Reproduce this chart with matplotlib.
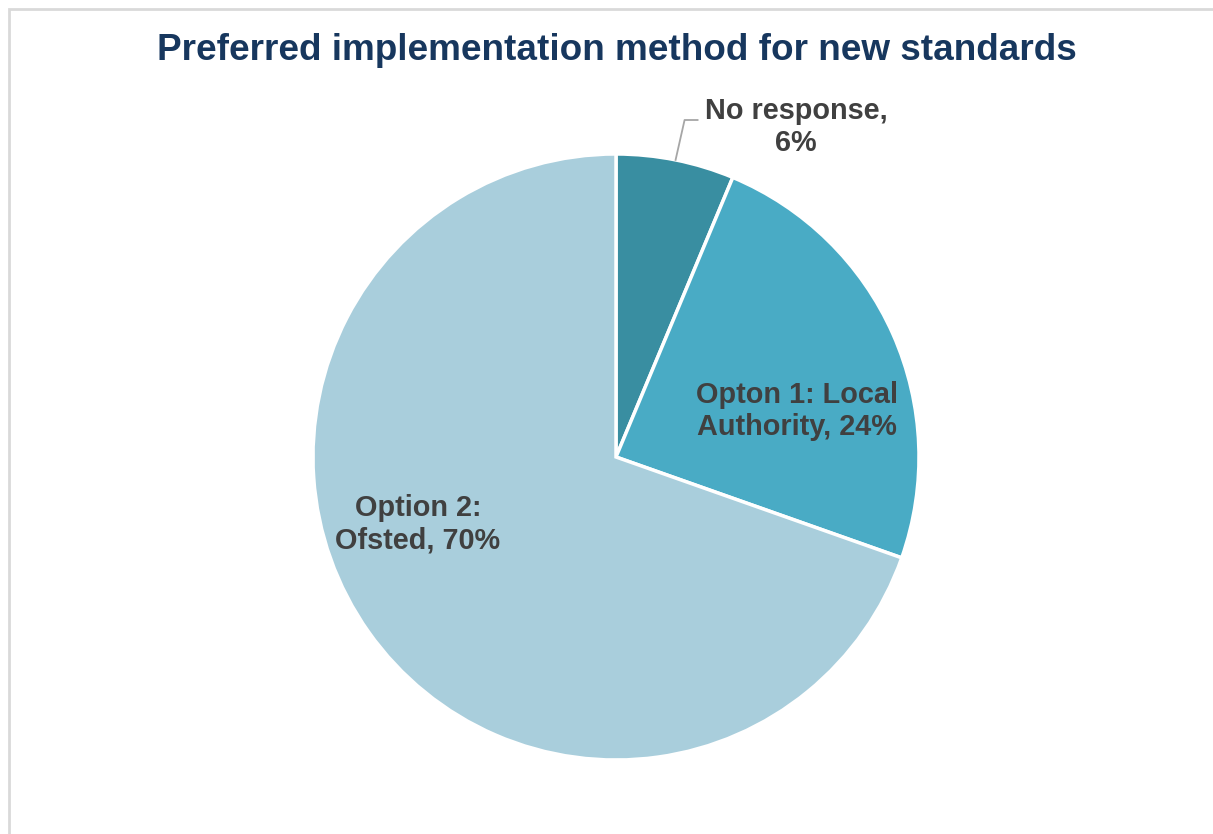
import numpy as np
import matplotlib

matplotlib.use("Agg")
import matplotlib.pyplot as plt

plt.rcParams["font.family"] = ["Liberation Sans", "DejaVu Sans"]

# --- data ---
categories = ["No response", "Opton 1: Local\nAuthority", "Option 2:\nOfsted"]
shares = [6.3, 24.1, 69.6]
colors = ["#398EA1", "#49ABC5", "#A9CEDC"]

W, H = 1213, 834
fig = plt.figure(figsize=(W / 100, H / 100), dpi=100)
ax = fig.add_axes([0, 0, 1, 1])

# chart frame (only top/left edges are visible in the crop)
ax.plot([9, 9, W + 5], [-5, H - 9, H - 9], color="#D9D9D9", lw=2, solid_joinstyle="miter")

cx, cy, r = 616, H - 457, 303
wedges, _ = ax.pie(shares, colors=colors, startangle=90, counterclock=False,
                   center=(cx, cy), radius=r, frame=True,
                   wedgeprops={"edgecolor": "white", "linewidth": 2.5})
ax.set_xlim(0, W)
ax.set_ylim(0, H)
ax.set_aspect("equal")
ax.axis("off")

tcol = "#404040"
fs = 20.8
ls = 1.2

# No response label with leader line
w0 = wedges[0]
mid = np.deg2rad((w0.theta1 + w0.theta2) / 2)
px, py = cx + r * np.cos(mid), cy + r * np.sin(mid)
ax.plot([px, px + 9, px + 22], [py, H - 120, H - 120], color="#A6A6A6", lw=1.3)
ax.text(796, H - 127, f"{categories[0]},\n{round(shares[0])}%", ha="center", va="center",
        fontsize=fs, fontweight="bold", color=tcol, linespacing=ls)

ax.text(797, H - 411, f"{categories[1]}, {round(shares[1])}%", ha="center", va="center",
        fontsize=fs, fontweight="bold", color=tcol, linespacing=ls)
ax.text(418, H - 524, f"{categories[2]}, {round(shares[2])}%", ha="center", va="center",
        fontsize=fs, fontweight="bold", color=tcol, linespacing=ls)

ax.text(617, H - 50, "Preferred implementation method for new standards", ha="center",
        va="center", fontsize=26.6, fontweight="bold", color="#17375E")

fig.savefig("out.png", dpi=100)
